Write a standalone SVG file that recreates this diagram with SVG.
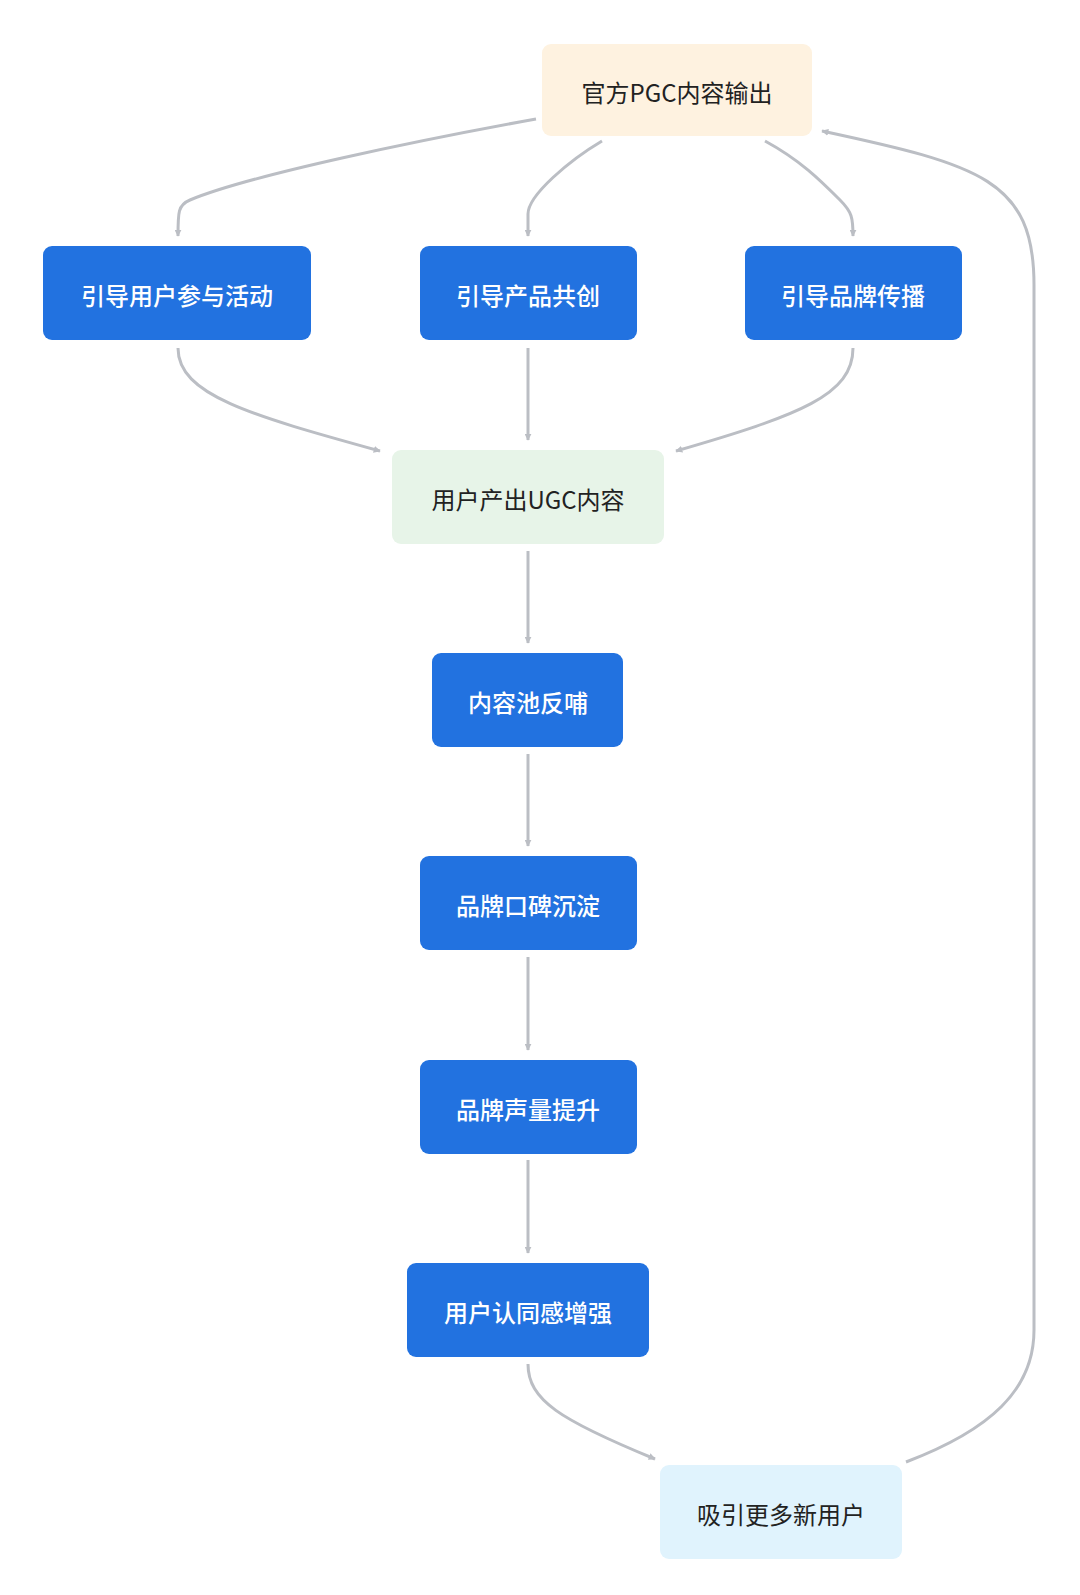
<svg xmlns="http://www.w3.org/2000/svg" width="1080" height="1595" viewBox="0 0 1080 1595">
<style>
text{font-family:"Noto Sans CJK SC","Noto Sans",sans-serif;font-size:24px;text-anchor:middle;dominant-baseline:central}
.b rect{fill:#2272e0}.b text{fill:#fff;font-weight:500}
.l text{fill:#222}
.e path{fill:none;stroke:#bbbec4;stroke-width:3;marker-end:url(#a)}
</style>
<defs><marker id="a" viewBox="0 0 10 10" refX="9" refY="5" markerWidth="7" markerHeight="7" markerUnits="userSpaceOnUse" orient="auto"><path d="M0 0L10 5L0 10z" fill="#bbbec4" transform="scale(1)"/></marker></defs>
<rect width="1080" height="1595" fill="#fff"/>
<g class="e">
<path d="M536 119C420 140 250 175 190 200C178 205 178 212 178 236" style="marker-end:url(#a)"/>
<path d="M602 141C570 160 528 195 528 214V236"/>
<path d="M765 141C800 160 820 180 840 200C852 212 853 218 853 236"/>
<path d="M178 348C178 395 250 415 380 451"/>
<path d="M528 348V440"/>
<path d="M853 348C853 395 800 415 676 451"/>
<path d="M528 551V643"/>
<path d="M528 754V846"/>
<path d="M528 957V1050"/>
<path d="M528 1160V1253"/>
<path d="M528 1364C528 1400 560 1420 655 1459"/>
<path d="M906 1462C990 1430 1034 1390 1034 1330V285C1034 180 980 165 822 131"/>
</g>
<g id="pgc" class="l"><rect x="542" y="44" width="270" height="92" rx="9" fill="#fef2e0"/><text x="677" y="91">官方PGC内容输出</text></g>
<g id="n1" class="b"><rect x="43" y="246" width="268" height="94" rx="9"/><text x="177" y="294">引导用户参与活动</text></g>
<g id="n2" class="b"><rect x="420" y="246" width="217" height="94" rx="9"/><text x="528" y="294">引导产品共创</text></g>
<g id="n3" class="b"><rect x="745" y="246" width="217" height="94" rx="9"/><text x="853" y="294">引导品牌传播</text></g>
<g id="ugc" class="l"><rect x="392" y="450" width="272" height="94" rx="9" fill="#e7f4e8"/><text x="528" y="498">用户产出UGC内容</text></g>
<g id="n4" class="b"><rect x="432" y="653" width="191" height="94" rx="9"/><text x="528" y="701">内容池反哺</text></g>
<g id="n5" class="b"><rect x="420" y="856" width="217" height="94" rx="9"/><text x="528" y="904">品牌口碑沉淀</text></g>
<g id="n6" class="b"><rect x="420" y="1060" width="217" height="94" rx="9"/><text x="528" y="1108">品牌声量提升</text></g>
<g id="n7" class="b"><rect x="407" y="1263" width="242" height="94" rx="9"/><text x="528" y="1311">用户认同感增强</text></g>
<g id="n8" class="l"><rect x="660" y="1465" width="242" height="94" rx="9" fill="#e0f3fd"/><text x="781" y="1513">吸引更多新用户</text></g>
</svg>
